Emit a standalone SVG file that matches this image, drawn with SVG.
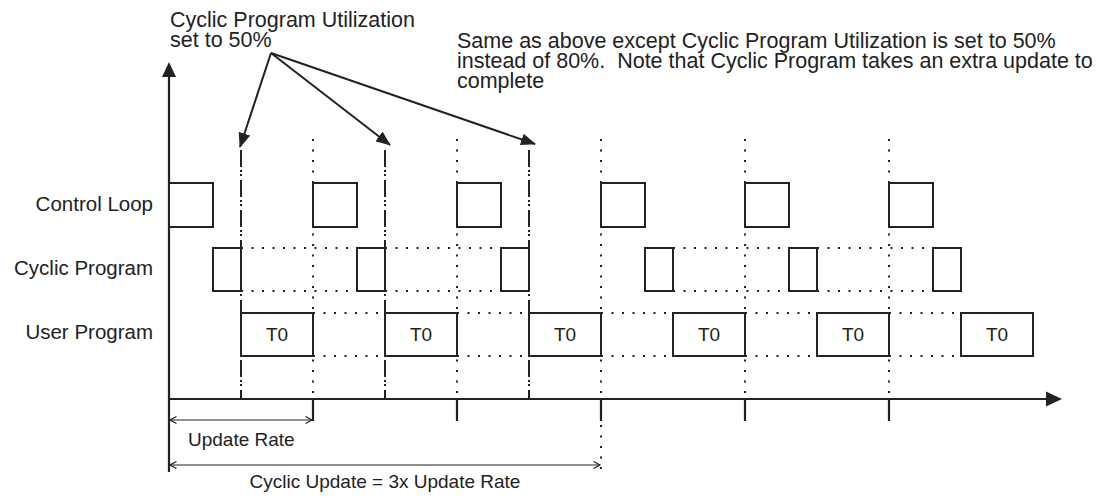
<svg xmlns="http://www.w3.org/2000/svg" width="1103" height="498" viewBox="0 0 1103 498">
  <style>
    .txt { font-family: "Liberation Sans", Arial, Helvetica, sans-serif; fill: #222; }
    .big { font-size: 21.5px; }
    .row { font-size: 20.5px; }
    .dim { font-size: 19px; }
    .t0 { font-size: 19px; }
    .box { fill: #fff; stroke: #222; stroke-width: 2; }
    .axis { stroke: #222; stroke-width: 2.2; fill: none; }
    .dot { stroke: #222; stroke-width: 2; stroke-dasharray: 2 8.5; fill: none; }
    .dashdot { stroke: #222; stroke-width: 2; stroke-dasharray: 17 3 2 2 2 4; fill: none; }
    .tick { stroke: #222; stroke-width: 2.2; fill: none; }
    .callout { stroke: #222; stroke-width: 2; fill: none; }
    .dimline { stroke: #222; stroke-width: 1.2; fill: none; }
  </style>
  <defs>
    <marker id="ah" markerUnits="userSpaceOnUse" viewBox="0 0 15 12" markerWidth="15" markerHeight="12" refX="14" refY="6" orient="auto">
      <path d="M0,0 L15,6 L0,12 z" fill="#222"/>
    </marker>
    <marker id="chev" markerUnits="userSpaceOnUse" viewBox="-1 -5 9 10" markerWidth="9" markerHeight="10" refX="6.5" refY="0" orient="auto-start-reverse">
      <path d="M0,-3.5 L6.5,0 L0,3.5" fill="none" stroke="#222" stroke-width="1.2"/>
    </marker>
  </defs>

  <!-- annotations -->
  <g id="note-utilization">
    <text class="txt big" x="170" y="27">Cyclic Program Utilization</text>
    <text class="txt big" x="170" y="47">set to 50%</text>
  </g>
  <g id="note-same">
    <text class="txt big" x="457" y="48">Same as above except Cyclic Program Utilization is set to 50%</text>
    <text class="txt big" x="457" y="68" xml:space="preserve">instead of 80%.  Note that Cyclic Program takes an extra update to</text>
    <text class="txt big" x="457" y="88">complete</text>
  </g>

  <!-- row labels -->
  <g id="label-control"><text class="txt row" x="153" y="211" text-anchor="end">Control Loop</text></g>
  <g id="label-cyclic"><text class="txt row" x="153" y="275" text-anchor="end">Cyclic Program</text></g>
  <g id="label-user"><text class="txt row" x="153" y="339" text-anchor="end">User Program</text></g>

  <!-- grid lines and connectors -->
  <g id="connectors">
    <!-- dash-dot verticals -->
    <line class="dashdot" x1="241" y1="150" x2="241" y2="399"/>
    <line class="dashdot" x1="385" y1="150" x2="385" y2="399"/>
    <line class="dashdot" x1="529" y1="150" x2="529" y2="399"/>
    <!-- dotted verticals -->
    <line class="dot" x1="313" y1="139" x2="313" y2="399"/>
    <line class="dot" x1="457" y1="139" x2="457" y2="399"/>
    <line class="dot" x1="601" y1="139" x2="601" y2="399"/>
    <line class="dot" x1="745" y1="139" x2="745" y2="399"/>
    <line class="dot" x1="889" y1="139" x2="889" y2="399"/>
    <line class="dot" x1="601" y1="425" x2="601" y2="470"/>
    <!-- cyclic row dotted horizontals -->
    <line class="dot" x1="241" y1="248" x2="357" y2="248"/>
    <line class="dot" x1="241" y1="291" x2="357" y2="291"/>
    <line class="dot" x1="385" y1="248" x2="501" y2="248"/>
    <line class="dot" x1="385" y1="291" x2="501" y2="291"/>
    <line class="dot" x1="673" y1="248" x2="789" y2="248"/>
    <line class="dot" x1="673" y1="291" x2="789" y2="291"/>
    <line class="dot" x1="817" y1="248" x2="933" y2="248"/>
    <line class="dot" x1="817" y1="291" x2="933" y2="291"/>
    <!-- user row dotted horizontals -->
    <line class="dot" x1="313" y1="313" x2="385" y2="313"/>
    <line class="dot" x1="313" y1="356" x2="385" y2="356"/>
    <line class="dot" x1="457" y1="313" x2="529" y2="313"/>
    <line class="dot" x1="457" y1="356" x2="529" y2="356"/>
    <line class="dot" x1="601" y1="313" x2="673" y2="313"/>
    <line class="dot" x1="601" y1="356" x2="673" y2="356"/>
    <line class="dot" x1="745" y1="313" x2="817" y2="313"/>
    <line class="dot" x1="745" y1="356" x2="817" y2="356"/>
    <line class="dot" x1="889" y1="313" x2="961" y2="313"/>
    <line class="dot" x1="889" y1="356" x2="961" y2="356"/>
    <!-- ticks below axis -->
    <line class="tick" x1="313" y1="399" x2="313" y2="421"/>
    <line class="tick" x1="457" y1="399" x2="457" y2="421"/>
    <line class="tick" x1="601" y1="399" x2="601" y2="421"/>
    <line class="tick" x1="745" y1="399" x2="745" y2="421"/>
    <line class="tick" x1="889" y1="399" x2="889" y2="421"/>
    <!-- callout arrows -->
    <line class="callout" x1="271" y1="53" x2="240" y2="147" marker-end="url(#ah)"/>
    <line class="callout" x1="271" y1="53" x2="390" y2="145" marker-end="url(#ah)"/>
    <line class="callout" x1="271" y1="53" x2="535" y2="144" marker-end="url(#ah)"/>
    <!-- dimension lines -->
    <line class="dimline" x1="170" y1="420" x2="312" y2="420" marker-start="url(#chev)" marker-end="url(#chev)"/>
    <line class="dimline" x1="170" y1="465" x2="600" y2="465" marker-start="url(#chev)" marker-end="url(#chev)"/>
  </g>

  <!-- axes -->
  <g id="axes">
    <line class="axis" x1="169" y1="472" x2="169" y2="74"/>
    <path d="M169,62 L162,77 L176,77 z" fill="#222"/>
    <line class="axis" x1="169" y1="399" x2="1048" y2="399"/>
    <path d="M1062,399 L1046,391.5 L1046,406.5 z" fill="#222"/>
  </g>

  <!-- control loop boxes -->
  <g id="control-loop">
    <rect class="box" x="169" y="183" width="44" height="44"/>
    <rect class="box" x="313" y="183" width="44" height="44"/>
    <rect class="box" x="457" y="183" width="44" height="44"/>
    <rect class="box" x="601" y="183" width="44" height="44"/>
    <rect class="box" x="745" y="183" width="44" height="44"/>
    <rect class="box" x="889" y="183" width="44" height="44"/>
  </g>

  <!-- cyclic program boxes -->
  <g id="cyclic-program">
    <rect class="box" x="213" y="248" width="28" height="43"/>
    <rect class="box" x="357" y="248" width="28" height="43"/>
    <rect class="box" x="501" y="248" width="28" height="43"/>
    <rect class="box" x="645" y="248" width="28" height="43"/>
    <rect class="box" x="789" y="248" width="28" height="43"/>
    <rect class="box" x="933" y="248" width="28" height="43"/>
  </g>

  <!-- user program boxes -->
  <g id="user-program">
    <g id="user-1"><rect class="box" x="241" y="313" width="72" height="43"/><text class="txt t0" x="277" y="341" text-anchor="middle">T0</text></g>
    <g id="user-2"><rect class="box" x="385" y="313" width="72" height="43"/><text class="txt t0" x="421" y="341" text-anchor="middle">T0</text></g>
    <g id="user-3"><rect class="box" x="529" y="313" width="72" height="43"/><text class="txt t0" x="565" y="341" text-anchor="middle">T0</text></g>
    <g id="user-4"><rect class="box" x="673" y="313" width="72" height="43"/><text class="txt t0" x="709" y="341" text-anchor="middle">T0</text></g>
    <g id="user-5"><rect class="box" x="817" y="313" width="72" height="43"/><text class="txt t0" x="853" y="341" text-anchor="middle">T0</text></g>
    <g id="user-6"><rect class="box" x="961" y="313" width="72" height="43"/><text class="txt t0" x="997" y="341" text-anchor="middle">T0</text></g>
  </g>

  <!-- dimension labels -->
  <g id="label-update-rate"><text class="txt dim" x="188" y="446">Update Rate</text></g>
  <g id="label-cyclic-update"><text class="txt dim" x="385" y="488" text-anchor="middle">Cyclic Update = 3x Update Rate</text></g>
</svg>
